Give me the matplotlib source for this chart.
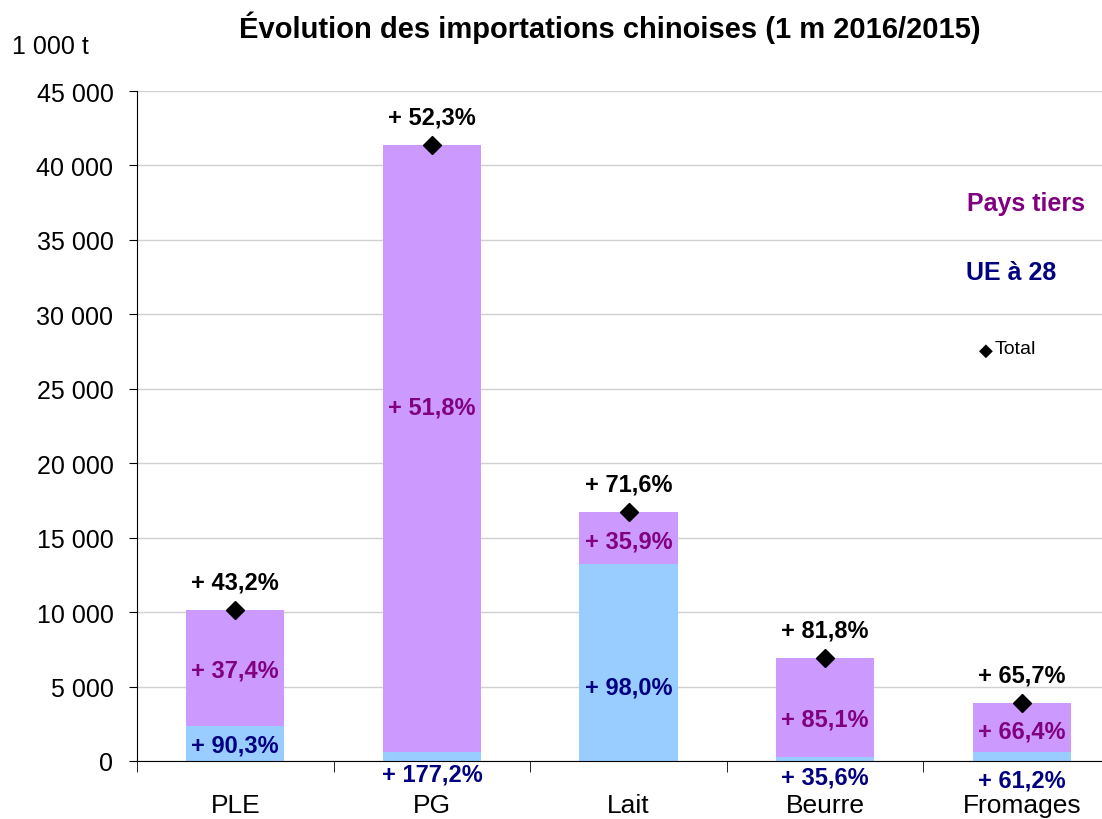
import matplotlib
matplotlib.use("Agg")
import matplotlib.pyplot as plt
from matplotlib.ticker import FuncFormatter, MultipleLocator

plt.rcParams['font.family'] = ['Liberation Sans', 'DejaVu Sans']

# données (1 000 t)
categories = ["PLE", "PG", "Lait", "Beurre", "Fromages"]
ue28 = [2350, 600, 13230, 250, 600]
total = [10140, 41370, 16720, 6920, 3900]
pays_tiers = [t - u for t, u in zip(total, ue28)]

lbl_ue = ["+ 90,3%", "+ 177,2%", "+ 98,0%", "+ 35,6%", "+ 61,2%"]
lbl_pt = ["+ 37,4%", "+ 51,8%", "+ 35,9%", "+ 85,1%", "+ 66,4%"]
lbl_total = ["+ 43,2%", "+ 52,3%", "+ 71,6%", "+ 81,8%", "+ 65,7%"]

# positions des étiquettes (placées à la main comme dans l'original)
pos_ue = [1100, -900, 5000, -1100, -1300]
pos_pt = [6100, 23800, 14800, 2800, 2000]

col_ue = "#99CCFF"
col_pt = "#CC99FF"

fig = plt.figure(figsize=(11.02, 8.2), dpi=100)
ax = fig.add_axes([137 / 1102, 58 / 820, 983 / 1102, 670 / 820])

x = list(range(len(categories)))
ax.bar(x, ue28, width=0.5, color=col_ue, zorder=2)
ax.bar(x, pays_tiers, width=0.5, bottom=ue28, color=col_pt, zorder=2)
ax.plot(x, total, linestyle="none", marker="D", color="black", markersize=9, zorder=4)

for i in x:
    ax.text(i, pos_ue[i], lbl_ue[i], ha="center", va="center", fontsize=17,
            fontweight="bold", color="#000080", zorder=5, clip_on=False)
    ax.text(i, pos_pt[i], lbl_pt[i], ha="center", va="center", fontsize=17,
            fontweight="bold", color="#800080", zorder=5)
    ax.annotate(lbl_total[i], (i, total[i]), xytext=(0, 20), textcoords="offset points",
                ha="center", va="center", fontsize=17, fontweight="bold", color="black")

ax.set_xlim(-0.5, len(categories) - 0.5)
ax.set_ylim(0, 45000)
ax.yaxis.set_major_locator(MultipleLocator(5000))
ax.yaxis.set_major_formatter(FuncFormatter(lambda v, p: f"{int(v):,}".replace(",", " ")))
ax.grid(axis="y", color="#D0D0D0", linewidth=1, zorder=0)
ax.set_axisbelow(True)

ax.set_xticks(x)
ax.set_xticklabels(categories)
ax.set_xticks([i - 0.5 for i in range(len(categories) + 1)], minor=True)
ax.tick_params(axis="x", which="major", length=0, pad=23, labelsize=19)
ax.tick_params(axis="x", which="minor", length=8, direction="out")
ax.tick_params(axis="y", length=6, direction="out", labelsize=18, pad=11)

for s in ["top", "right"]:
    ax.spines[s].set_visible(False)
ax.spines["left"].set_color("black")
ax.spines["bottom"].set_color("black")

fig.text(610 / 1102, 1 - 28 / 820, "Évolution des importations chinoises (1 m 2016/2015)",
         ha="center", va="center", fontsize=21, fontweight="bold")
fig.text(12 / 1102, 1 - 47 / 820, "1 000 t", ha="left", va="center", fontsize=18)

# légende
fig.text(1026 / 1102, 1 - 204 / 820, "Pays tiers", ha="center", va="center",
         fontsize=18, fontweight="bold", color="#800080")
fig.text(1011 / 1102, 1 - 273 / 820, "UE à 28", ha="center", va="center",
         fontsize=18, fontweight="bold", color="#000080")
fig.text(986 / 1102, 1 - 351 / 820, "◆", ha="center", va="center", fontsize=13,
         family=["DejaVu Sans"])
fig.text(995 / 1102, 1 - 350 / 820, "Total", ha="left", va="center", fontsize=14)

fig.savefig("out.png", dpi=100)
